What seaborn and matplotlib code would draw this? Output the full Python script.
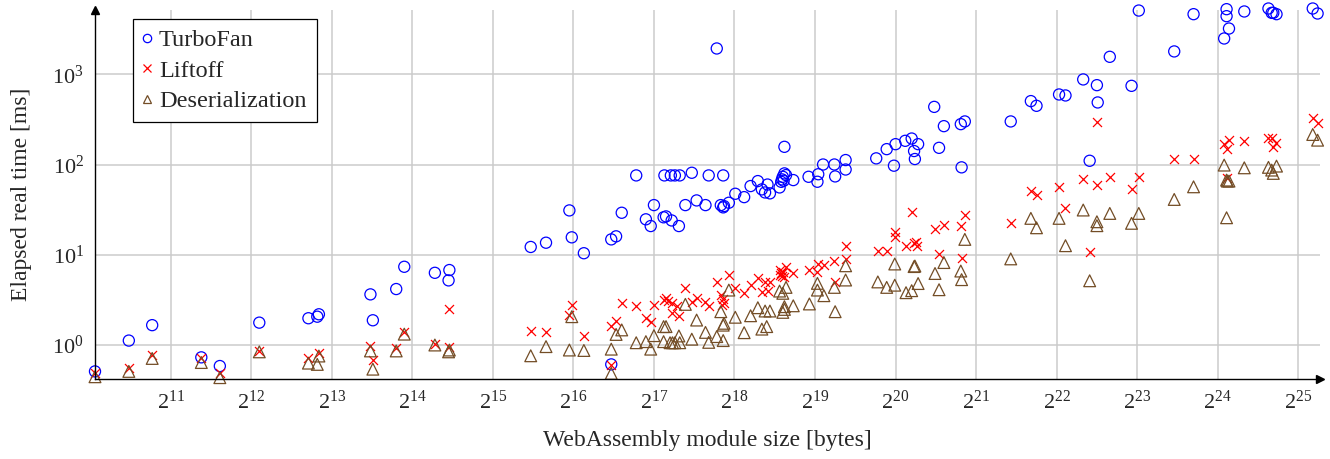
import numpy as np
import pandas as pd
import matplotlib
matplotlib.use("Agg")
import matplotlib.pyplot as plt
import seaborn as sns
from matplotlib.lines import Line2D
from matplotlib.ticker import LogLocator, LogFormatterMathtext, NullLocator

# ---------------- data (module size as log2(bytes), time in ms) ----------------
turbofan_size_log2 = [10.06, 10.48, 10.77, 11.38, 11.61, 12.10, 12.71, 12.82, 12.84, 13.48, 13.51, 13.80,
    13.90, 14.28, 14.46, 14.45, 15.47, 15.66, 15.95, 15.98, 16.13, 16.47, 16.53, 16.60, 16.47, 16.78,
    16.90, 16.96, 17.00, 17.12, 17.15, 17.22, 17.31, 17.13, 17.21, 17.26, 17.32, 17.39, 17.47, 17.53,
    17.64, 17.68, 17.83, 17.86, 17.87, 17.86, 17.93, 17.78, 18.01, 18.12, 18.20, 18.29, 18.34, 18.38,
    18.44, 18.41, 18.56, 18.58, 18.60, 18.62, 18.64, 18.59, 18.61, 18.62, 18.73, 18.92, 19.03, 19.04,
    19.10, 19.24, 19.25, 19.38, 19.38, 19.76, 19.89, 19.98, 20.00, 20.12, 20.20, 20.28, 20.23, 20.24,
    20.48, 20.54, 20.60, 20.81, 20.86, 20.82, 21.43, 21.68, 21.75, 22.03, 22.11, 22.33, 22.50, 22.51,
    22.41, 22.66, 22.93, 23.02, 23.46, 23.70, 24.08, 24.11, 24.11, 24.14, 24.33, 24.63, 24.67, 24.69,
    24.73, 25.18, 25.24]
turbofan_ms = [0.51, 1.12, 1.66, 0.73, 0.585, 1.77, 1.98, 2.06, 2.19, 3.64, 1.88, 4.17,
    7.36, 6.31, 6.77, 5.2, 12.2, 13.6, 31, 15.6, 10.4, 14.8, 16.0, 29.2, 0.61, 75.7,
    24.7, 20.8, 35.5, 26, 26.6, 24, 20.8, 75.7, 75.7, 75.7, 75.7, 35.5, 81, 40,
    35.5, 75.7, 35.5, 33.5, 34.6, 75.7, 37.7, 1930, 47.4, 43.5, 57.7, 65.5, 53, 49,
    47.9, 60, 55.7, 64.3, 73.1, 79.7, 76.3, 68.4, 66, 157, 67.2, 73.1, 64.4, 78,
    100, 100, 73.8, 112, 88, 117, 148, 97, 168, 183, 194, 168, 141, 115,
    435, 153, 266, 280, 300, 93, 300, 504, 447, 597, 582, 876, 757, 487,
    110, 1560, 744, 5080, 1790, 4630, 2490, 5260, 4400, 3210, 4960, 5350, 4790, 4790,
    4630, 5350, 4710]

liftoff_size_log2 = [10.06, 10.48, 10.77, 11.38, 11.61, 12.10, 12.71, 12.84, 13.48, 13.51, 13.80, 13.90,
    14.28, 14.45, 14.46, 15.47, 15.66, 15.95, 15.98, 16.13, 16.47, 16.53, 16.60, 16.47, 16.78, 16.90,
    16.96, 17.00, 17.12, 17.15, 17.17, 17.22, 17.22, 17.31, 17.29, 17.39, 17.47, 17.53, 17.64, 17.68,
    17.78, 17.83, 17.86, 17.87, 17.84, 17.93, 18.01, 18.12, 18.20, 18.29, 18.34, 18.38, 18.41, 18.44,
    18.56, 18.58, 18.60, 18.62, 18.64, 18.59, 18.57, 18.73, 18.93, 19.03, 19.04, 19.11, 19.24, 19.25,
    19.38, 19.38, 19.78, 19.89, 19.99, 19.99, 20.13, 20.20, 20.23, 20.25, 20.27, 20.49, 20.60, 20.54,
    20.81, 20.82, 20.86, 21.43, 21.68, 21.75, 22.03, 22.11, 22.33, 22.50, 22.50, 22.41, 22.66, 22.93,
    23.02, 23.46, 23.70, 24.08, 24.11, 24.14, 24.11, 24.33, 24.62, 24.67, 24.69, 24.72, 25.18, 25.24]
liftoff_ms = [0.485, 0.55, 0.775, 0.71, 0.49, 0.86, 0.71, 0.81, 0.975, 0.69, 0.92, 1.40,
    1.02, 0.94, 2.48, 1.44, 1.40, 2.15, 2.77, 1.27, 1.62, 1.84, 2.9, 0.60, 2.72, 1.98,
    1.78, 2.77, 3.15, 3.29, 3.1, 2.24, 2.9, 2.1, 2.72, 4.25, 3.02, 3.34, 3.02, 2.72,
    5.0, 3.58, 3.23, 2.94, 2.77, 5.96, 4.25, 3.8, 4.6, 5.56, 3.9, 5.0, 4.0, 5.0,
    5.96, 6.2, 6.5, 5.7, 7.4, 5.8, 6.8, 6.3, 6.8, 6.5, 8.0, 7.7, 8.5, 4.95,
    12.5, 9.0, 11.1, 11.1, 18.0, 15.8, 12.5, 29.5, 13.4, 13.7, 12.5, 19.4, 21.3, 10.2,
    21, 9.2, 27.5, 22.6, 51, 45.8, 55.7, 33.2, 68.4, 59.1, 295, 10.6, 73, 53.8,
    73, 114, 114, 168, 149, 186, 70, 182, 198, 198, 157, 174, 324, 285]

deser_size_log2 = [10.06, 10.48, 10.77, 11.38, 11.61, 12.10, 12.71, 12.82, 12.84, 13.48, 13.51, 13.80,
    13.90, 14.28, 14.45, 14.46, 15.47, 15.66, 15.95, 15.98, 16.13, 16.47, 16.47, 16.53, 16.60, 16.78,
    16.90, 16.96, 17.00, 17.12, 17.15, 17.12, 17.20, 17.23, 17.26, 17.32, 17.31, 17.39, 17.47, 17.53,
    17.64, 17.68, 17.78, 17.83, 17.86, 17.87, 17.86, 17.93, 18.01, 18.12, 18.20, 18.29, 18.34, 18.40,
    18.38, 18.44, 18.56, 18.60, 18.62, 18.62, 18.60, 18.64, 18.73, 18.93, 19.03, 19.03, 19.11, 19.24,
    19.25, 19.38, 19.38, 19.78, 19.89, 19.99, 19.99, 20.13, 20.20, 20.23, 20.24, 20.28, 20.49, 20.54,
    20.60, 20.81, 20.82, 20.86, 21.43, 21.68, 21.75, 22.03, 22.11, 22.33, 22.50, 22.50, 22.41, 22.66,
    22.93, 23.02, 23.46, 23.70, 24.08, 24.11, 24.12, 24.14, 24.11, 24.33, 24.63, 24.67, 24.69, 24.73,
    25.18, 25.24]
deser_ms = [0.445, 0.51, 0.71, 0.64, 0.435, 0.84, 0.63, 0.61, 0.755, 0.86, 0.54, 0.86,
    1.32, 1.0, 0.84, 0.88, 0.76, 0.96, 0.88, 2.06, 0.87, 0.90, 0.485, 1.31, 1.47, 1.06,
    1.09, 0.90, 1.27, 1.6, 1.6, 1.09, 1.06, 1.06, 1.06, 1.06, 1.26, 2.82, 1.16, 1.89,
    1.38, 1.07, 1.24, 2.34, 1.66, 1.74, 1.12, 4.06, 2.03, 1.37, 2.11, 2.59, 1.5, 1.6,
    2.38, 2.38, 3.96, 3.74, 2.66, 2.48, 2.3, 4.35, 2.72, 2.85, 4.82, 4.06, 3.52, 4.35,
    2.34, 7.55, 5.25, 5.0, 4.35, 7.9, 4.6, 3.8, 4.0, 7.4, 7.5, 4.8, 6.2, 4.1,
    8.2, 6.6, 5.3, 14.8, 9.0, 25.3, 19.9, 25.3, 12.6, 31.3, 23.2, 21, 5.15, 28.7,
    22.3, 28.7, 41, 56.6, 98.5, 67.2, 65.5, 65.5, 25.7, 91.9, 93, 86.7, 79.7, 96,
    215, 186]

series_names = ["TurboFan", "Liftoff", "Deserialization"]
series_colors = ["#0000ff", "#ff0000", "#734d26"]

# ---------------- style ----------------
sns.set_theme(style="white")
plt.rcParams["font.family"] = ["Liberation Serif", "DejaVu Serif"]
plt.rcParams["mathtext.fontset"] = "custom"
plt.rcParams["mathtext.rm"] = "Liberation Serif"
plt.rcParams["mathtext.it"] = "Liberation Serif:italic"
plt.rcParams["mathtext.default"] = "regular"

fig = plt.figure(figsize=(13.3, 4.59), dpi=100)
ax = fig.add_axes([95 / 1330, 1 - 379.3 / 459, (1320 - 95) / 1330, (379.3 - 10) / 459])

def frame(sizes, ms, name):
    return pd.DataFrame({"bytes": np.power(2.0, np.array(sizes)), "ms": np.array(ms), "series": name})

df_tf = frame(turbofan_size_log2, turbofan_ms, series_names[0])
df_lo = frame(liftoff_size_log2, liftoff_ms, series_names[1])
df_de = frame(deser_size_log2, deser_ms, series_names[2])

sns.scatterplot(data=df_tf, x="bytes", y="ms", ax=ax, marker="o", s=64,
                facecolors="none", edgecolor=series_colors[0], linewidth=0.9, zorder=3, clip_on=False)
sns.scatterplot(data=df_lo, x="bytes", y="ms", ax=ax, marker="x", s=42,
                color=series_colors[1], linewidth=0.9, zorder=3, clip_on=False)
sns.scatterplot(data=df_de, x="bytes", y="ms", ax=ax, marker="^", s=72,
                facecolors="none", edgecolor=series_colors[2], linewidth=0.9, zorder=3, clip_on=False)

ax.set_xscale("log", base=2)
ax.set_yscale("log")
ax.set_xlim(2 ** 10.06, 2 ** 25.27)
ax.set_ylim(0.417, 5150)

ax.xaxis.set_major_locator(LogLocator(base=2, numticks=40))
ax.xaxis.set_major_formatter(LogFormatterMathtext(base=2))
ax.xaxis.set_minor_locator(NullLocator())
ax.yaxis.set_major_locator(LogLocator(base=10, numticks=20))
ax.yaxis.set_minor_locator(LogLocator(base=10, subs=np.arange(2, 10), numticks=20))
ax.yaxis.set_major_formatter(LogFormatterMathtext(base=10))

ax.grid(True, which="major", color="#cbcbcb", linewidth=1.1)
ax.set_axisbelow(True)
for s in ["top", "right"]:
    ax.spines[s].set_visible(False)
for s in ["left", "bottom"]:
    ax.spines[s].set_color("black")
    ax.spines[s].set_linewidth(1.0)
    ax.spines[s].set_zorder(4)

ax.tick_params(axis="both", which="major", direction="inout", length=6, width=0.8,
               color="#444444", labelsize=16, pad=5)
ax.tick_params(axis="y", which="minor", direction="inout", length=4, width=0.6, color="#444444")
ax.tick_params(axis="x", which="minor", length=0)

# axis arrows
ax.plot([1], [0], marker=">", color="black", markersize=6, transform=ax.transAxes, clip_on=False, zorder=5)
ax.plot([0], [1], marker="^", color="black", markersize=6, transform=ax.transAxes, clip_on=False, zorder=5)

ax.set_xlabel("WebAssembly module size [bytes]", fontsize=17, labelpad=12)
ax.set_ylabel("Elapsed real time [ms]", fontsize=17, labelpad=15)

handles = [
    Line2D([], [], linestyle="none", marker="o", markersize=6, markerfacecolor="none",
           markeredgecolor=series_colors[0], markeredgewidth=0.9),
    Line2D([], [], linestyle="none", marker="x", markersize=6, color=series_colors[1], markeredgewidth=0.9),
    Line2D([], [], linestyle="none", marker="^", markersize=6, markerfacecolor="none",
           markeredgecolor=series_colors[2], markeredgewidth=0.9),
]
leg = ax.legend(handles, series_names, loc="upper left", bbox_to_anchor=(0.031, 0.975),
                borderaxespad=0, fontsize=17.5, frameon=True, fancybox=False, framealpha=1,
                handlelength=0.35, handletextpad=0.3, labelspacing=0.34, borderpad=0.42)
leg.get_frame().set_edgecolor("black")
leg.get_frame().set_linewidth(0.9)

fig.savefig("out.png", dpi=100)
